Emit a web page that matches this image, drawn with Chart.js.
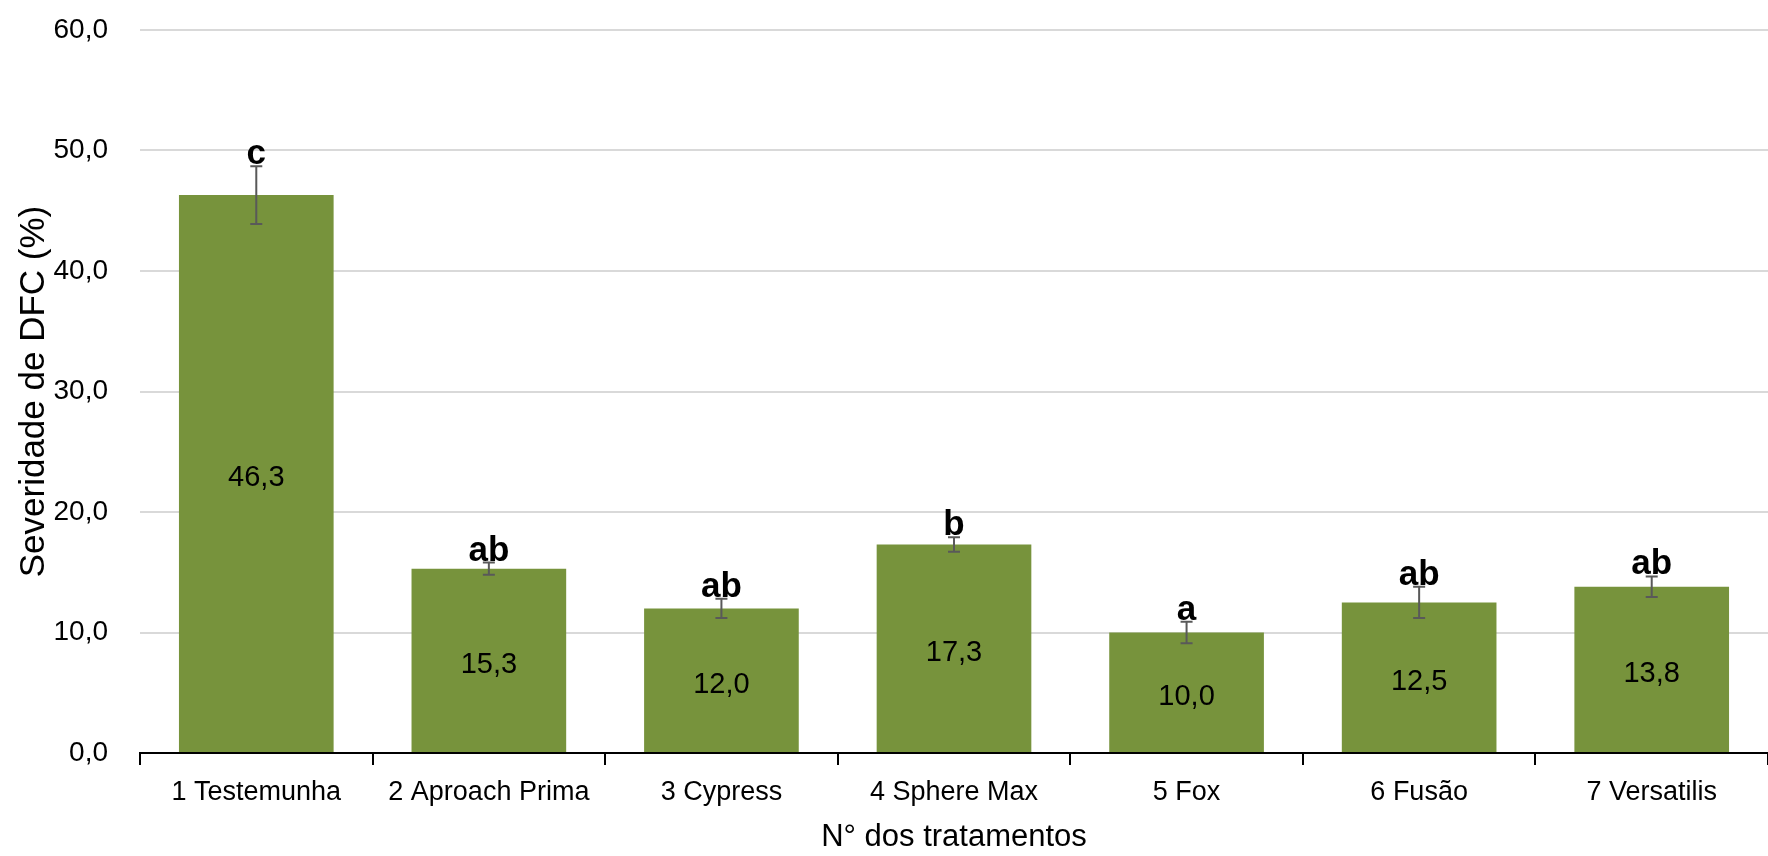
<!DOCTYPE html>
<html>
<head>
<meta charset="utf-8">
<script src="https://cdn.jsdelivr.net/npm/chart.js@4"></script>
<style>
    html, body { margin: 0; padding: 0; background: #fff; }
    #wrap { width: 1768px; height: 856px; position: relative; }
</style>
</head>
<body>
<div id="wrap"><canvas id="dfcChart"></canvas></div>
<script>
// Data
const treatments = ['1 Testemunha', '2 Aproach Prima', '3 Cypress', '4 Sphere Max', '5 Fox', '6 Fusão', '7 Versatilis'];
const severity = [46.3, 15.3, 12.0, 17.3, 10.0, 12.5, 13.8];
const errors = [2.4, 0.5, 0.8, 0.6, 0.9, 1.3, 0.85];
const letters = ['c', 'ab', 'ab', 'b', 'a', 'ab', 'ab'];
const yTicks = [0, 10, 20, 30, 40, 50, 60];

const FONT = "'Liberation Sans', Arial, sans-serif";
const fmt = v => v.toFixed(1).replace('.', ',');

// error bars, value labels and significance letters
const annotations = {
    id: 'annotations',
    afterDatasetsDraw(chart) {
        const ctx = chart.ctx;
        const y = chart.scales.y;
        const meta = chart.getDatasetMeta(0);
        ctx.save();
        meta.data.forEach((bar, i) => {
            const v = severity[i];
            const e = errors[i];
            const top = y.getPixelForValue(v + e);
            const bot = y.getPixelForValue(v - e);

            // value inside the bar
            ctx.fillStyle = '#000';
            ctx.font = '29px ' + FONT;
            ctx.textAlign = 'center';
            ctx.textBaseline = 'middle';
            ctx.fillText(fmt(v), bar.x, y.getPixelForValue(v / 2) + 4);

            // error bar
            ctx.strokeStyle = '#595959';
            ctx.lineWidth = 2;
            ctx.beginPath();
            ctx.moveTo(bar.x, top);
            ctx.lineTo(bar.x, bot);
            ctx.moveTo(bar.x - 6, top);
            ctx.lineTo(bar.x + 6, top);
            ctx.moveTo(bar.x - 6, bot);
            ctx.lineTo(bar.x + 6, bot);
            ctx.stroke();

            // letter
            ctx.fillStyle = '#000';
            ctx.font = 'bold 35px ' + FONT;
            ctx.textBaseline = 'alphabetic';
            ctx.fillText(letters[i], bar.x, top - 2);
        });
        ctx.restore();
    }
};

const chartCtx = document.getElementById('dfcChart').getContext('2d');
new Chart(chartCtx, {
    type: 'bar',
    data: {
        labels: treatments,
        datasets: [{
            label: 'Severidade',
            data: severity,
            backgroundColor: '#77933C',
            borderWidth: 0,
            categoryPercentage: 1,
            barPercentage: 0.665
        }]
    },
    options: {
        responsive: true,
        maintainAspectRatio: false,
        animation: false,
        layout: {
            padding: { top: 30, right: 0, left: 13, bottom: 0 }
        },
        plugins: {
            legend: { display: false },
            tooltip: { enabled: false }
        },
        scales: {
            x: {
                afterFit: axis => { axis.height = 103; },
                border: { display: true, color: '#000', width: 2 },
                grid: {
                    offset: true,
                    drawOnChartArea: false,
                    drawTicks: true,
                    tickLength: 12,
                    color: '#000',
                    lineWidth: 2
                },
                ticks: {
                    color: '#000',
                    padding: 11,
                    maxRotation: 0,
                    autoSkip: false,
                    font: { family: FONT, size: 27 }
                },
                title: {
                    display: true,
                    text: 'N° dos tratamentos',
                    color: '#000',
                    font: { family: FONT, size: 31 },
                    padding: { top: 10, bottom: 0 }
                }
            },
            y: {
                min: 0,
                max: 60,
                afterBuildTicks: axis => { axis.ticks = yTicks.map(v => ({ value: v })); },
                afterFit: axis => {
                    axis.width = 127;
                    axis.paddingTop = 0;
                },
                border: { display: false },
                grid: {
                    color: '#d9d9d9',
                    lineWidth: 2,
                    drawTicks: false
                },
                ticks: {
                    color: '#000',
                    padding: 32,
                    callback: v => fmt(v),
                    font: { family: FONT, size: 28 }
                },
                title: {
                    display: true,
                    text: 'Severidade de DFC (%)',
                    color: '#000',
                    font: { family: FONT, size: 35 },
                    padding: { top: 0, bottom: 1 }
                }
            }
        }
    },
    plugins: [annotations]
});
</script>
</body>
</html>
